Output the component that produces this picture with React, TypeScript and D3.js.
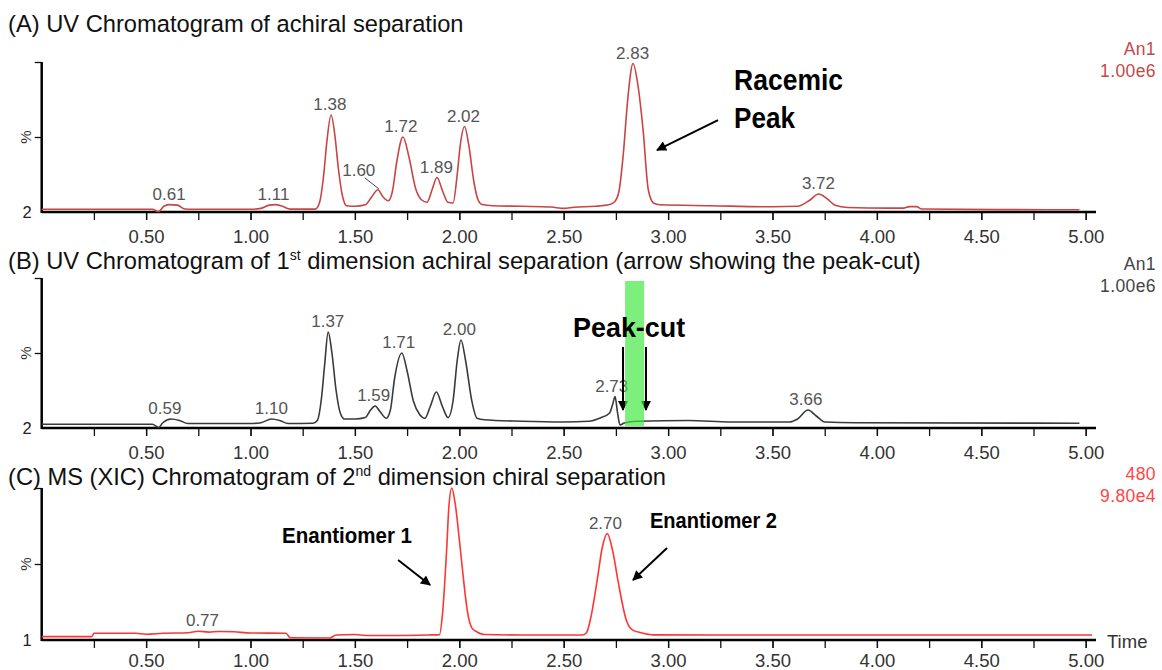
import { useEffect, useRef } from 'react';
import * as d3 from 'd3';

// time axis
const xTickLabels = ['0.50', '1.00', '1.50', '2.00', '2.50', '3.00', '3.50', '4.00', '4.50', '5.00'];

// (A) UV trace, [time (min), % of full scale]
const traceA: [number, number][] = [
  [0, 1.8], [0.3, 1.8], [0.53, 1.8], [0.56, 0.3], [0.585, 3.8], [0.61, 4.9], [0.65, 4.6], [0.685, 2],
  [0.72, 1.8], [1.0, 1.8], [1.05, 2.4], [1.09, 4.6], [1.12, 4.9], [1.15, 4.0], [1.19, 1.9], [1.31, 1.9],
  [1.33, 6], [1.35, 24], [1.365, 46], [1.386, 64.7], [1.405, 50], [1.42, 30], [1.44, 11], [1.46, 4.2],
  [1.5, 3.8], [1.55, 4.8], [1.58, 10], [1.61, 14.8], [1.635, 10], [1.66, 7.5], [1.68, 14], [1.7, 33],
  [1.73, 50], [1.76, 36], [1.79, 16], [1.82, 8], [1.845, 6.5], [1.87, 15], [1.893, 23], [1.92, 14],
  [1.945, 6.5], [1.97, 6], [1.99, 25], [2.005, 45], [2.025, 57], [2.045, 45], [2.07, 20], [2.09, 8],
  [2.11, 5], [2.16, 4.2], [2.3, 3.8], [2.44, 3.3], [2.5, 2.4], [2.55, 3.2], [2.65, 3.8], [2.72, 5],
  [2.745, 7], [2.765, 14], [2.785, 38], [2.808, 77], [2.832, 99], [2.855, 85], [2.88, 55], [2.905, 15],
  [2.93, 6], [2.96, 4.8], [3.2, 4.2], [3.5, 3.5], [3.62, 3.8], [3.68, 8], [3.72, 12], [3.76, 9],
  [3.8, 4.5], [3.86, 3], [4.05, 2.6], [4.13, 2.6], [4.155, 3.6], [4.19, 3.6], [4.215, 2], [4.6, 1.6],
  [4.97, 1.5],
];
const peakNamesA = ['0.61', '1.11', '1.38', '1.60', '1.72', '1.89', '2.02', '2.83', '3.72'];
const peakHeightsA = [4.9, 4.9, 64.7, 14.8, 50, 23, 57, 99, 12];

// (B) UV trace, 1st dimension
const traceB: [number, number][] = [
  [0, 2.5], [0.53, 2.5], [0.56, 0.3], [0.58, 3.5], [0.62, 6], [0.66, 5], [0.7, 3], [1.0, 3],
  [1.05, 3.5], [1.1, 6], [1.14, 5], [1.18, 3], [1.3, 3.2], [1.32, 5], [1.34, 20], [1.355, 42],
  [1.372, 64], [1.39, 50], [1.41, 25], [1.43, 10], [1.45, 6], [1.5, 6], [1.55, 7], [1.575, 12],
  [1.597, 14.7], [1.62, 11], [1.65, 6.5], [1.67, 12], [1.69, 33], [1.725, 50], [1.75, 38], [1.78, 18],
  [1.81, 9], [1.835, 6.5], [1.86, 14], [1.89, 24], [1.92, 14], [1.946, 7], [1.97, 18], [1.99, 45],
  [2.008, 58.7], [2.03, 45], [2.06, 18], [2.085, 6.5], [2.12, 5.5], [2.3, 4.5], [2.5, 4], [2.62, 4.5],
  [2.675, 6.7], [2.72, 10], [2.735, 16], [2.746, 20.9], [2.758, 10], [2.77, 2], [2.79, 3.3], [2.85, 4.5],
  [3.1, 5], [3.3, 4], [3.58, 4], [3.62, 6], [3.67, 12], [3.71, 8], [3.75, 4], [3.9, 3.5], [4.97, 3.2],
];
const peakNamesB = ['0.59', '1.10', '1.37', '1.59', '1.71', '2.00', '2.73', '3.66'];
const peakHeightsB = [6, 6, 64, 14.7, 50, 58.7, 20.9, 12];

// (C) MS XIC trace, 2nd dimension
const traceC: [number, number][] = [
  [0, 2.2], [0.24, 2.2], [0.25, 4.4], [0.45, 4.4], [0.5, 3.8], [0.58, 4.4], [0.7, 4.8], [0.75, 5.8],
  [0.8, 5.2], [0.85, 5.6], [0.92, 5.4], [1.0, 4.6], [1.17, 4.4], [1.19, 1.5], [1.38, 1.3], [1.41, 3.3],
  [1.5, 3.6], [1.55, 3.0], [1.7, 3.0], [1.85, 3.3], [1.905, 3.5], [1.92, 17.8], [1.94, 61], [1.95, 87.5],
  [1.964, 100], [1.98, 90], [2.004, 61], [2.02, 40], [2.04, 17.8], [2.06, 8], [2.085, 5.3], [2.12, 3.6],
  [2.3, 3.3], [2.59, 3.3], [2.61, 5], [2.627, 13], [2.66, 39], [2.685, 61], [2.708, 70], [2.737, 57],
  [2.76, 39], [2.8, 13], [2.83, 6.5], [2.866, 5], [2.93, 3.4], [3.3, 3.3], [5.03, 3.3],
];
const peakNamesC = ['0.77', '2.70'];
const peakHeightsC = [5.8, 70];

const FONT = "'Liberation Sans', Arial, Helvetica, sans-serif";

const panels = [
  {
    title: [['(A) UV Chromatogram of achiral separation', false]],
    titleY: 32, top: 62, bottom: 212, labelGap: 10,
    trace: traceA, names: peakNamesA, heights: peakHeightsA,
    color: '#c94444', infoColor: '#c24a4a', info: ['An1', '1.00e6'], infoY: 55,
    baseLabel: '2',
  },
  {
    title: [['(B) UV Chromatogram of 1', false], ['st', true], [' dimension achiral separation (arrow showing the peak-cut)', false]],
    titleY: 269, top: 278, bottom: 428, labelGap: 10,
    trace: traceB, names: peakNamesB, heights: peakHeightsB,
    color: '#3a3a3a', infoColor: '#444', info: ['An1', '1.00e6'], infoY: 270,
    baseLabel: '2',
  },
  {
    title: [['(C) MS (XIC) Chromatogram of 2', false], ['nd', true], [' dimension chiral separation', false]],
    titleY: 485, top: 488, bottom: 640, labelGap: 6,
    trace: traceC, names: peakNamesC, heights: peakHeightsC,
    color: '#ff3535', infoColor: '#ff4545', info: ['480', '9.80e4'], infoY: 480,
    baseLabel: '1',
  },
];

const App = () => {
  const svgRef = useRef<SVGSVGElement>(null);

  useEffect(() => {
    const svg = d3.select(svgRef.current);
    svg.selectAll('*').remove();

    const x = d3.scaleLinear().domain([0, 5]).range([41.7, 1085.7]);

    svg
      .append('defs')
      .append('marker')
      .attr('id', 'head')
      .attr('viewBox', '0 0 10 10')
      .attr('refX', 9)
      .attr('refY', 5)
      .attr('markerWidth', 14)
      .attr('markerHeight', 10)
      .attr('markerUnits', 'userSpaceOnUse')
      .attr('orient', 'auto')
      .append('path')
      .attr('d', 'M0,0 L10,5 L0,10 z')
      .attr('fill', '#000');

    const arrow = (g, x1, y1, x2, y2) =>
      g.append('line')
        .attr('x1', x1).attr('y1', y1).attr('x2', x2).attr('y2', y2)
        .attr('stroke', '#000').attr('stroke-width', 2)
        .attr('marker-end', 'url(#head)');

    const boldText = (g, tx, ty, s, len, size = 28) =>
      g.append('text')
        .attr('x', tx).attr('y', ty)
        .attr('font-family', FONT).attr('font-weight', 'bold')
        .attr('font-size', size)
        .attr('textLength', len).attr('lengthAdjust', 'spacingAndGlyphs')
        .attr('fill', '#000')
        .text(s);

    const ys = panels.map((p, idx) => {
      const g = svg.append('g');
      const y = d3.scaleLinear().domain([0, 100]).range([p.bottom, p.top]);

      // title (superscripts raised, then dropped back)
      const title = g.append('text')
        .attr('x', 8).attr('y', p.titleY)
        .attr('font-family', FONT).attr('font-size', 23.7).attr('fill', '#111');
      let raised = 0;
      p.title.forEach(([s, sup]) => {
        const dy = sup ? -9 : raised;
        raised = sup ? 9 : 0;
        title.append('tspan')
          .attr('dy', dy)
          .attr('font-size', sup ? 14 : 23.7)
          .text(s as string);
      });

      // instrument info
      p.info.forEach((s, i) => {
        g.append('text')
          .attr('x', 1156).attr('y', p.infoY + i * 22)
          .attr('text-anchor', 'end')
          .attr('font-family', FONT).attr('font-size', 17.5)
          .attr('letter-spacing', 0.4)
          .attr('fill', p.infoColor)
          .text(s);
      });

      // x axis ticks
      const minor = d3.range(1, 101).map((i) => i * 0.05);
      const mid = d3.range(1, 21).map((i) => i * 0.25);
      const major = xTickLabels.map(Number);
      const axG = g.append('g').attr('transform', `translate(0,${p.bottom})`);
      axG.call(d3.axisBottom(x).tickValues(minor).tickSize(4).tickFormat(() => ''));
      axG.call(d3.axisBottom(x).tickValues(mid).tickSize(8).tickFormat(() => ''));
      const labG = g.append('g').attr('transform', `translate(0,${p.bottom})`);
      labG.call(
        d3.axisBottom(x).tickValues(major).tickSize(8).tickPadding(p.labelGap)
          .tickFormat((d, i) => xTickLabels[i])
      );
      g.selectAll('.domain').remove();
      g.selectAll('.tick line').attr('stroke', '#111').attr('stroke-width', 1.3);
      labG.selectAll('text')
        .attr('font-family', FONT).attr('font-size', 18.5).attr('fill', '#333');
      g.append('line')
        .attr('x1', x(0)).attr('x2', 1096)
        .attr('y1', p.bottom).attr('y2', p.bottom)
        .attr('stroke', '#000').attr('stroke-width', 2.5);

      // y axis
      const yG = g.append('g').attr('transform', `translate(${x(0)},0)`);
      yG.call(d3.axisLeft(y).tickValues(d3.range(0, 101, 10)).tickSize(4).tickFormat(() => ''));
      yG.call(d3.axisLeft(y).tickValues([50, 100]).tickSize(7).tickFormat(() => ''));
      yG.selectAll('.domain').remove();
      yG.selectAll('.tick line').attr('stroke', '#111').attr('stroke-width', 1.3);
      g.append('line')
        .attr('x1', x(0)).attr('x2', x(0))
        .attr('y1', p.top).attr('y2', p.bottom + 1)
        .attr('stroke', '#000').attr('stroke-width', 2.5);
      g.append('text')
        .attr('x', 27).attr('y', p.bottom + 6)
        .attr('text-anchor', 'middle')
        .attr('font-family', FONT).attr('font-size', 16.5).attr('fill', '#222')
        .text(p.baseLabel);
      g.append('text')
        .attr('transform', `translate(31,${y(50)}) rotate(-90)`)
        .attr('text-anchor', 'middle')
        .attr('font-family', FONT).attr('font-size', 15).attr('fill', '#333')
        .text('%');

      // trace
      const line = d3.line<[number, number]>()
        .x((d) => x(d[0]))
        .y((d) => y(d[1]))
        .curve(d3.curveMonotoneX);
      g.append('path')
        .datum(p.trace)
        .attr('d', line)
        .attr('fill', 'none')
        .attr('stroke', p.color)
        .attr('stroke-width', 1.6);

      // peak labels
      p.names.forEach((name, i) => {
        const offset = idx === 0 && name === '1.60';
        const px = x(Number(name)) + (offset ? -17 : 0);
        const py = y(p.heights[i]) - (offset ? 14 : 5);
        g.append('text')
          .attr('x', px).attr('y', py)
          .attr('text-anchor', 'middle')
          .attr('font-family', FONT).attr('font-size', 17).attr('fill', '#555')
          .text(name);
        if (offset) {
          g.append('line')
            .attr('x1', px + 6).attr('y1', py + 2)
            .attr('x2', x(Number(name)) + 3).attr('y2', y(p.heights[i]) - 1)
            .attr('stroke', '#444').attr('stroke-width', 1);
        }
      });
      return y;
    });

    const [yA, yB, yC] = ys;
    const notes = svg.append('g');

    // (A) racemic peak
    boldText(notes, x(3.316), yA(81.3), 'Racemic', 109, 29);
    boldText(notes, x(3.316), yA(56), 'Peak', 61, 29);
    arrow(notes, x(3.239), yA(61.3), x(2.947), yA(41.3));

    // (B) peak-cut window
    arrow(notes, x(2.784), yB(54), x(2.784), yB(12));
    arrow(notes, x(2.894), yB(54), x(2.894), yB(12));
    notes.append('rect')
      .attr('x', x(2.794)).attr('width', x(2.885) - x(2.794))
      .attr('y', yB(98)).attr('height', yB(0) - yB(98) - 2)
      .attr('fill', '#3fe83f').attr('opacity', 0.68);
    boldText(notes, x(2.545), yB(60.7), 'Peak-cut', 112, 28);

    // (C) enantiomers
    boldText(notes, x(1.151), yC(63.8), 'Enantiomer 1', 130, 22);
    arrow(notes, x(1.707), yC(52.6), x(1.86), yC(36.2));
    boldText(notes, x(2.913), yC(73.7), 'Enantiomer 2', 127, 22);
    arrow(notes, x(2.995), yC(60.5), x(2.832), yC(39.5));

    // time label
    notes.append('text')
      .attr('x', 1107).attr('y', yC(0) + 8)
      .attr('font-family', FONT).attr('font-size', 18.5).attr('fill', '#333')
      .text('Time');
  }, []);

  return (
    <svg
      ref={svgRef}
      width={1162}
      height={670}
      style={{ position: 'absolute', left: 0, top: 0, background: '#fff' }}
    ></svg>
  );
};

export default App;
